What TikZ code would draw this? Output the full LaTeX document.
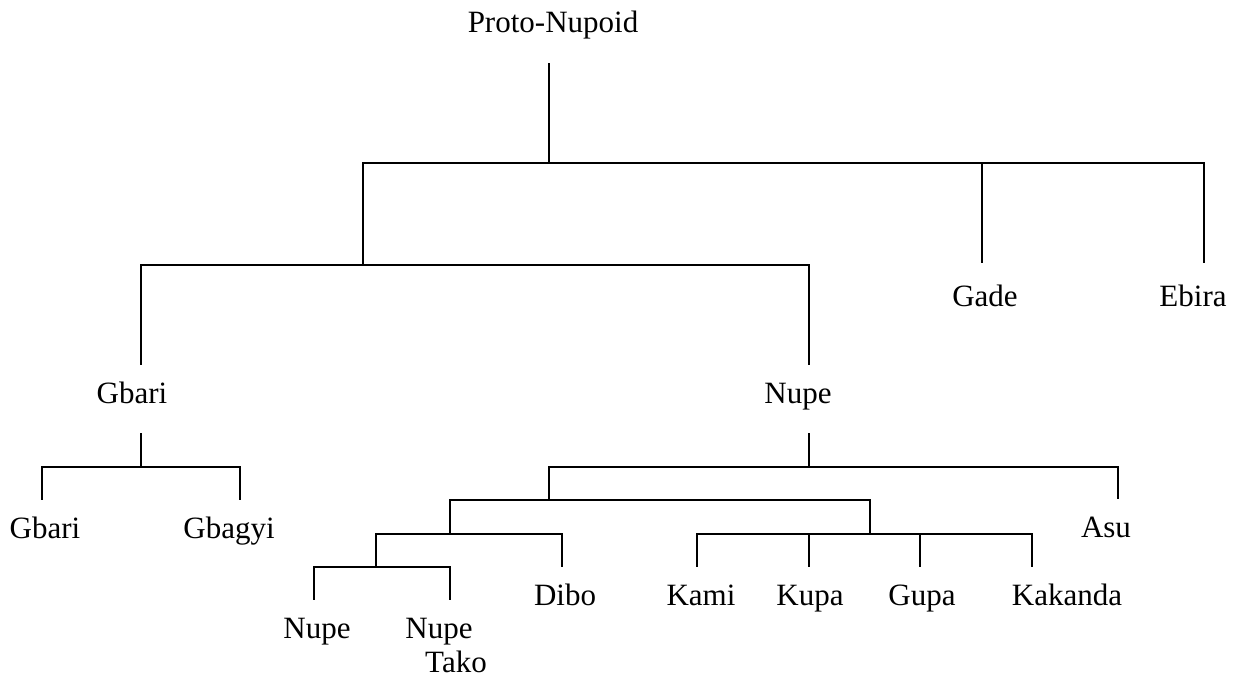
\documentclass[tikz,border=0pt]{standalone}
\usepackage{fontspec}
\setmainfont{Liberation Serif}
\usepackage{tikz}
\usetikzlibrary{calc}

\tikzset{
  lang/.style={anchor=base, inner sep=0pt, text height=38pt, text depth=30pt,
    font=\fontsize{31}{36}\selectfont},
  branch/.style={line width=1.8pt},
}

\begin{document}
\begin{tikzpicture}[x=1pt,y=-1pt]
\useasboundingbox (0,0) rectangle (1235,679);
\node[lang] (root) at (553,33) {Proto-Nupoid};
\node[lang,text height=44pt] (gade) at (985,307) {Gade};
\node[lang,text height=44pt] (ebira) at (1193,307) {Ebira};
\node[lang] (gbari) at (132,403) {Gbari};
\node[lang] (nupe) at (798,403) {Nupe};
\node[lang] (gbarilow) at (45,538) {Gbari};
\node[lang] (gbagyi) at (229,538) {Gbagyi};
\node[lang] (asu) at (1106,537) {Asu};
\node[lang] (dibo) at (565,605) {Dibo};
\node[lang] (kami) at (701,605) {Kami};
\node[lang] (kupa) at (810,605) {Kupa};
\node[lang] (gupa) at (922,605) {Gupa};
\node[lang] (kakanda) at (1067,605) {Kakanda};
\node[lang] (nupelow) at (317,638) {Nupe};
\node[lang] (nupetako) at (439,638) {Nupe};
\node[lang] (tako) at (456,672) {Tako};

\coordinate (b0) at (549,163);
\coordinate (b1) at (363,265);
\coordinate (b2) at (141,467);
\coordinate (b3) at (809,467);
\coordinate (c1) at (549,500);
\coordinate (c2) at (450,534);
\coordinate (c3) at (870,534);
\coordinate (c4) at (376,567);

\draw[branch] (root.south -| b0) -- (b0);
\draw[branch] (b1) |- (b0) -| ([xshift=11pt]ebira.north);
\draw[branch] ([xshift=-3pt]gade.north |- b0) -- ([xshift=-3pt]gade.north);
\draw[branch] ([xshift=9pt]gbari.north) |- (b1) -| ([xshift=11pt]nupe.north);

\draw[branch] ([xshift=9pt]gbari.south) -- (b2);
\draw[branch] ([xshift=-3pt]gbarilow.north) |- (b2) -| ([xshift=11pt]gbagyi.north);

\draw[branch] ([xshift=11pt]nupe.south) -- (b3);
\draw[branch] (c1) |- (b3) -| ([xshift=12pt]asu.north);
\draw[branch] (c2) |- (c1) -| (c3);
\draw[branch] (c4) |- (c2) -| ([xshift=-3pt]dibo.north);
\draw[branch] ([xshift=-3pt]nupelow.north) |- (c4) -| ([xshift=11pt]nupetako.north);
\draw[branch] ([xshift=-4pt]kami.north) |- (c3) -| ([xshift=-35pt]kakanda.north);
\draw[branch] ([xshift=-1pt]kupa.north |- c3) -- ([xshift=-1pt]kupa.north);
\draw[branch] ([xshift=-2pt]gupa.north |- c3) -- ([xshift=-2pt]gupa.north);
\end{tikzpicture}
\end{document}
